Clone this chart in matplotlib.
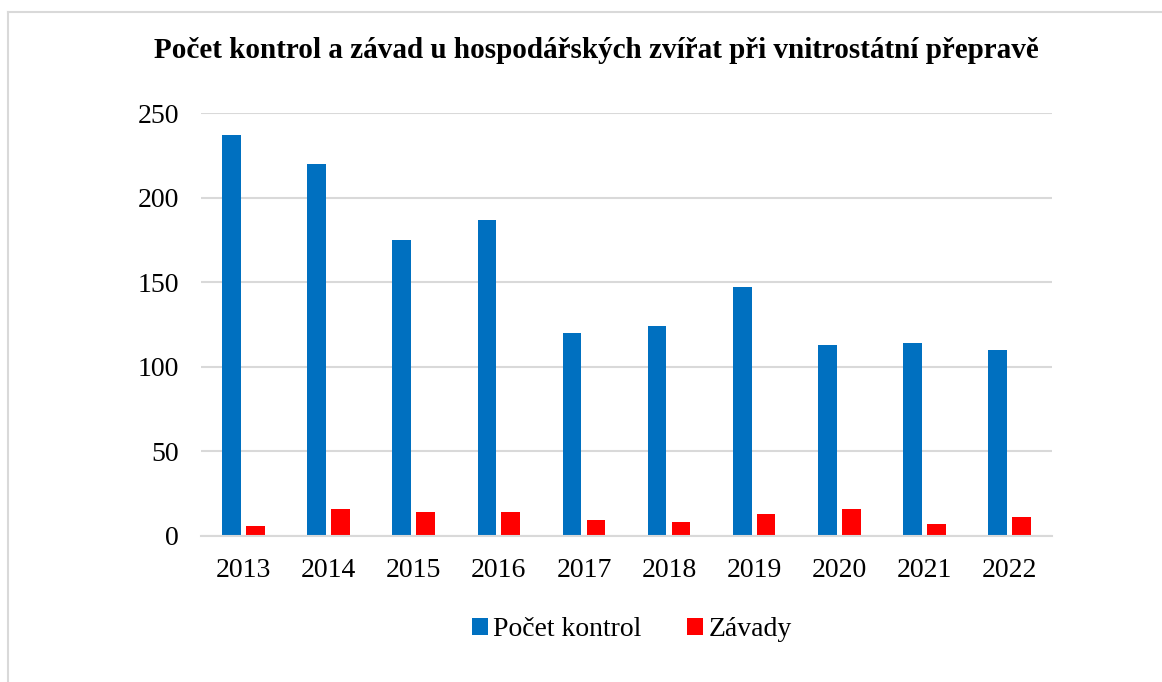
import numpy as np
import matplotlib.pyplot as plt
from matplotlib.lines import Line2D

# data
years = ['2013', '2014', '2015', '2016', '2017', '2018', '2019', '2020', '2021', '2022']
kontroly = [237, 220, 175, 187, 120, 124, 147, 113, 114, 110]
zavady = [6, 16, 14, 14, 9, 8, 13, 16, 7, 11]

plt.rcParams['font.family'] = ['Liberation Serif', 'DejaVu Serif']

fig = plt.figure(figsize=(11.62, 6.82), dpi=100)
ax = fig.add_axes([201 / 1162, 1 - 535.7 / 682, 851 / 1162, 422.4 / 682])

x = np.arange(len(years))
w = 0.22
ax.bar(x - 0.14, kontroly, w, color='#0070C0', label='Počet kontrol', zorder=3)
ax.bar(x + 0.14, zavady, w, color='#FF0000', label='Závady', zorder=3)

ax.set_xlim(-0.5, len(years) - 0.5)
ax.set_ylim(0, 250)
ax.set_yticks(range(0, 251, 50))
ax.set_xticks(x)
ax.set_xticklabels(years)
ax.tick_params(axis='both', length=0, labelsize=20)
ax.tick_params(axis='y', pad=16)
ax.tick_params(axis='x', pad=16)
ax.grid(axis='y', color='#D9D9D9', linewidth=1.5, zorder=0)
for s in ['top', 'right', 'left']:
    ax.spines[s].set_visible(False)
ax.spines['bottom'].set_color('#D9D9D9')
ax.spines['bottom'].set_linewidth(1.5)
ax.spines['bottom'].set_zorder(4)

fig.text(596.5 / 1162, 1 - 51 / 682, 'Počet kontrol a závad u hospodářských zvířat při vnitrostátní přepravě',
         ha='center', va='center', fontsize=21, fontweight='bold')

ax.legend(loc='center', bbox_to_anchor=(632 / 1162, 1 - 630 / 682), bbox_transform=fig.transFigure,
          ncol=2, frameon=False, fontsize=20, handlelength=0.55, handleheight=0.55,
          handletextpad=0.2, columnspacing=1.65)

# outer chart border (cropped at right and bottom)
fig.add_artist(Line2D([8 / 1162, 1], [1 - 12 / 682, 1 - 12 / 682], color='#D9D9D9', linewidth=1.5))
fig.add_artist(Line2D([8 / 1162, 8 / 1162], [0, 1 - 12 / 682], color='#D9D9D9', linewidth=1.5))

fig.savefig('out.png', dpi=100)
